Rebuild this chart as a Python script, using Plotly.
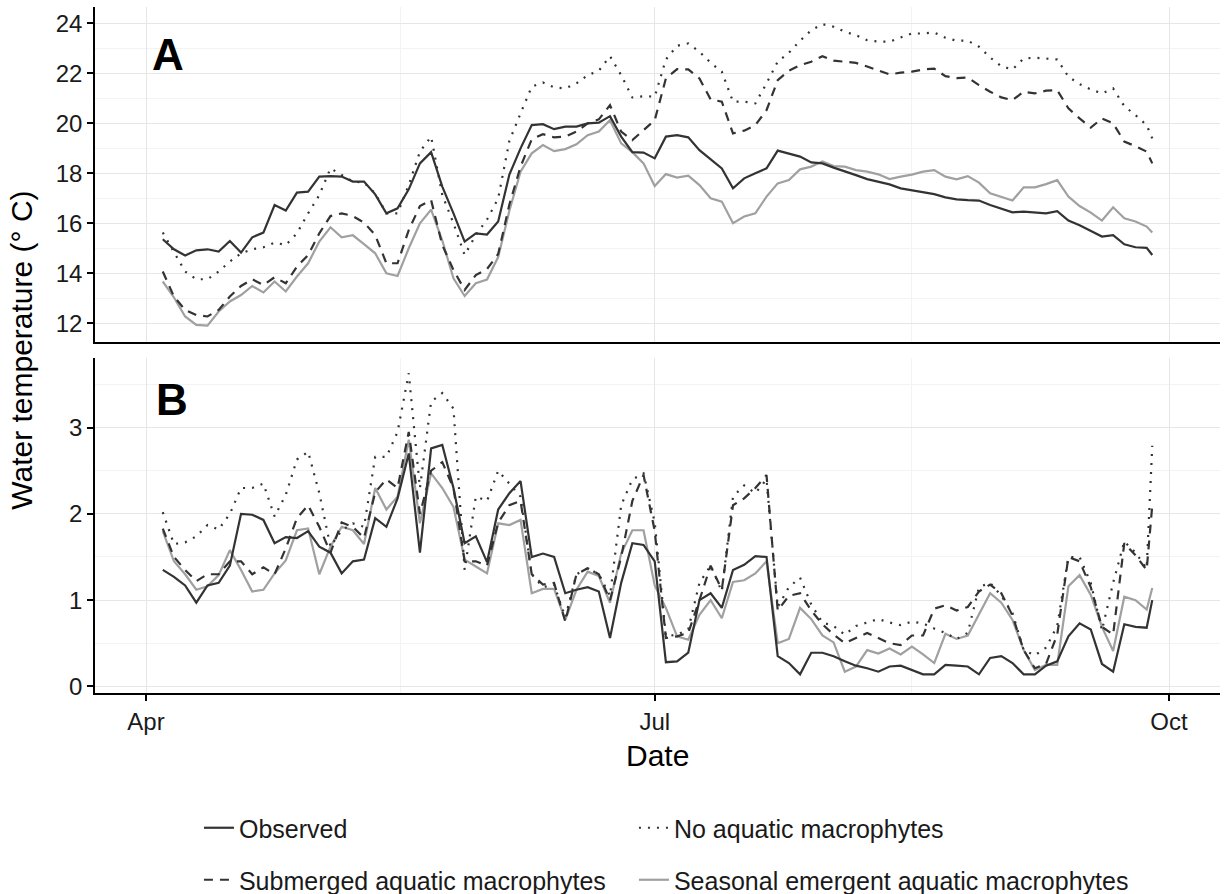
import pandas as pd
import plotly.graph_objects as go
from plotly.subplots import make_subplots

FONT = "Liberation Sans, Arial, sans-serif"

# ---- data -------------------------------------------------------------
dates = list(pd.date_range("2015-04-04", "2015-09-27", freq="2D").strftime("%Y-%m-%d")) + ["2015-09-28"]

# Panel A: mean water temperature (deg C)
mean_observed = [
    15.36, 14.96, 14.71, 14.92, 14.96, 14.87, 15.29, 14.83, 15.44, 15.63,
    16.73, 16.51, 17.23, 17.27, 17.87, 17.89, 17.87, 17.67, 17.67, 17.16,
    16.40, 16.60, 17.36, 18.40, 18.85, 17.47, 16.40, 15.27, 15.60, 15.55,
    16.07, 17.95, 19.00, 19.93, 19.97, 19.77, 19.87, 19.87, 20.00, 20.03,
    20.29, 19.47, 18.85, 18.83, 18.60, 19.47, 19.53, 19.44, 18.93, 18.56,
    18.20, 17.40, 17.80, 18.00, 18.20, 18.91, 18.80, 18.67, 18.44, 18.40,
    18.23, 18.09, 17.93, 17.77, 17.67, 17.56, 17.40, 17.33, 17.23, 17.17,
    17.04, 16.96, 16.93, 16.91, 16.73, 16.59, 16.44, 16.47, 16.43, 16.40,
    16.49, 16.11, 15.92, 15.71, 15.47, 15.53, 15.16, 15.04, 15.02,
    14.73,
]
mean_none = [
    15.63, 14.87, 14.07, 13.76, 13.76, 14.07, 14.47, 14.80, 14.96, 15.04,
    15.23, 15.13, 15.60, 16.40, 17.13, 18.20, 17.93, 17.67, 17.63, 17.20,
    16.40, 16.40, 17.53, 18.87, 19.47, 17.13, 16.00, 14.73, 15.53, 16.15,
    17.00, 19.30, 20.40, 21.47, 21.64, 21.44, 21.40, 21.60, 21.93, 22.11,
    22.69, 21.93, 21.04, 21.09, 21.07, 22.56, 23.11, 23.20, 22.87, 22.43,
    22.07, 20.87, 20.87, 20.80, 21.60, 22.47, 22.83, 23.31, 23.73, 23.97,
    23.87, 23.67, 23.53, 23.33, 23.27, 23.27, 23.44, 23.60, 23.60, 23.64,
    23.43, 23.31, 23.31, 23.07, 22.64, 22.29, 22.16, 22.60, 22.63, 22.60,
    22.56, 21.87, 21.57, 21.36, 21.20, 21.40, 20.69, 20.33, 19.93,
    19.40,
]
mean_submerged = [
    14.07, 13.07, 12.53, 12.33, 12.27, 12.53, 13.07, 13.49, 13.76, 13.53,
    13.84, 13.60, 14.27, 14.73, 15.60, 16.29, 16.40, 16.29, 16.03, 15.53,
    14.40, 14.40, 15.73, 16.69, 16.93, 15.13, 14.13, 13.33, 13.93, 14.17,
    14.77, 16.75, 18.27, 19.36, 19.57, 19.44, 19.47, 19.67, 20.00, 20.16,
    20.73, 19.67, 19.33, 19.73, 20.13, 21.80, 22.17, 22.16, 21.80, 20.96,
    20.87, 19.60, 19.71, 19.93, 20.53, 21.73, 22.11, 22.33, 22.47, 22.69,
    22.51, 22.47, 22.42, 22.28, 22.11, 21.96, 22.03, 22.07, 22.16, 22.19,
    21.89, 21.81, 21.84, 21.53, 21.27, 21.04, 20.93, 21.27, 21.20, 21.31,
    21.33, 20.60, 20.20, 19.83, 20.20, 20.00, 19.27, 19.09, 18.87,
    18.40,
]
mean_seasonal = [
    13.67, 13.03, 12.27, 11.93, 11.90, 12.47, 12.87, 13.13, 13.49, 13.23,
    13.67, 13.27, 13.87, 14.40, 15.27, 15.84, 15.44, 15.52, 15.17, 14.80,
    14.00, 13.89, 15.00, 16.00, 16.55, 15.31, 13.80, 13.09, 13.60, 13.75,
    14.65, 16.50, 18.07, 18.80, 19.13, 18.89, 18.97, 19.16, 19.53, 19.67,
    20.13, 19.20, 18.85, 18.40, 17.49, 17.97, 17.83, 17.91, 17.53, 17.00,
    16.87, 16.00, 16.27, 16.40, 17.07, 17.60, 17.73, 18.16, 18.27, 18.48,
    18.29, 18.27, 18.13, 18.07, 17.96, 17.77, 17.87, 17.95, 18.07, 18.13,
    17.87, 17.76, 17.89, 17.63, 17.20, 17.07, 16.91, 17.44, 17.44, 17.57,
    17.73, 17.07, 16.69, 16.43, 16.11, 16.64, 16.20, 16.07, 15.87,
    15.63,
]

# Panel B: daily temperature range (deg C)
range_observed = [
    1.35, 1.27, 1.17, 0.97, 1.17, 1.20, 1.40, 2.00, 1.99, 1.93,
    1.66, 1.73, 1.72, 1.80, 1.62, 1.55, 1.31, 1.45, 1.47, 1.95,
    1.85, 2.18, 2.70, 1.55, 2.76, 2.80, 2.30, 1.66, 1.74, 1.44,
    2.05, 2.24, 2.38, 1.50, 1.54, 1.50, 1.08, 1.12, 1.15, 1.10,
    0.56, 1.20, 1.66, 1.64, 1.45, 0.28, 0.29, 0.39, 1.00, 1.08,
    0.91, 1.35, 1.41, 1.51, 1.50, 0.35, 0.27, 0.14, 0.39, 0.39,
    0.35, 0.29, 0.24, 0.21, 0.17, 0.23, 0.24, 0.19, 0.14, 0.14,
    0.25, 0.24, 0.23, 0.14, 0.33, 0.35, 0.27, 0.14, 0.14, 0.24,
    0.29, 0.58, 0.73, 0.66, 0.26, 0.17, 0.72, 0.69, 0.68,
    1.00,
]
range_none = [
    2.02, 1.65, 1.67, 1.74, 1.87, 1.82, 2.00, 2.30, 2.30, 2.35,
    1.97, 2.22, 2.63, 2.72, 2.24, 1.62, 1.81, 1.89, 1.85, 2.66,
    2.66, 2.95, 3.63, 2.30, 3.30, 3.40, 3.22, 1.35, 2.20, 2.15,
    2.50, 2.35, 2.20, 1.30, 1.15, 1.18, 0.80, 1.30, 1.37, 1.30,
    1.05, 2.10, 2.40, 2.47, 1.90, 0.58, 0.60, 0.66, 1.20, 1.40,
    1.10, 2.20, 2.33, 2.24, 2.40, 0.92, 1.15, 1.26, 0.95, 0.74,
    0.70, 0.60, 0.70, 0.74, 0.78, 0.74, 0.71, 0.75, 0.73, 0.67,
    0.62, 0.55, 0.62, 1.15, 1.20, 1.05, 0.85, 0.42, 0.36, 0.45,
    0.70, 1.50, 1.50, 1.20, 0.65, 1.20, 1.68, 1.55, 1.37,
    2.79,
]
range_submerged = [
    1.83, 1.50, 1.35, 1.22, 1.30, 1.30, 1.45, 1.45, 1.30, 1.38,
    1.30, 1.60, 1.95, 2.10, 1.85, 1.55, 1.90, 1.85, 1.72, 2.25,
    2.40, 2.30, 2.95, 2.00, 2.50, 2.60, 2.30, 1.45, 1.45, 1.40,
    1.90, 2.10, 2.15, 1.30, 1.18, 1.20, 0.75, 1.30, 1.37, 1.30,
    1.00, 1.50, 2.15, 2.45, 1.80, 0.56, 0.58, 0.62, 1.00, 1.40,
    1.12, 2.10, 2.18, 2.30, 2.45, 0.88, 1.05, 1.08, 0.88, 0.72,
    0.60, 0.50, 0.56, 0.62, 0.56, 0.50, 0.48, 0.59, 0.59, 0.90,
    0.94, 0.88, 0.92, 1.10, 1.18, 1.08, 0.82, 0.42, 0.21, 0.26,
    0.60, 1.50, 1.45, 1.15, 0.69, 0.60, 1.66, 1.52, 1.35,
    2.10,
]
range_seasonal = [
    1.80, 1.45, 1.30, 1.12, 1.16, 1.29, 1.58, 1.35, 1.10, 1.12,
    1.31, 1.46, 1.81, 1.83, 1.30, 1.62, 1.85, 1.81, 1.65, 2.30,
    2.05, 2.20, 2.86, 1.89, 2.47, 2.30, 2.08, 1.47, 1.39, 1.31,
    1.89, 1.87, 1.93, 1.08, 1.13, 1.13, 0.77, 1.12, 1.33, 1.28,
    0.97, 1.54, 1.81, 1.81, 1.17, 0.91, 0.58, 0.54, 0.83, 1.00,
    0.79, 1.21, 1.23, 1.31, 1.45, 0.50, 0.55, 0.91, 0.78, 0.59,
    0.51, 0.17, 0.23, 0.42, 0.38, 0.44, 0.37, 0.46, 0.37, 0.27,
    0.61, 0.55, 0.59, 0.83, 1.08, 0.97, 0.77, 0.42, 0.19, 0.25,
    0.25, 1.16, 1.29, 1.06, 0.69, 0.41, 1.04, 1.00, 0.89,
    1.14,
]

series_names = ["Observed", "No aquatic macrophytes",
                "Submerged aquatic macrophytes", "Seasonal emergent aquatic macrophytes"]
x_tickvals = ["2015-04-01", "2015-07-01", "2015-10-01"]
x_ticktext = ["Apr", "Jul", "Oct"]
x_minor = ["2015-05-16 12:00", "2015-08-16"]
topA_ticks = [12, 14, 16, 18, 20, 22, 24]
topA_minor = [13, 15, 17, 19, 21, 23]
botB_ticks = [0, 1, 2, 3]
botB_minor = [0.5, 1.5, 2.5, 3.5]

# ---- styles -----------------------------------------------------------
DARK = "#333333"
GREY = "#a0a0a0"
styles = {
    "Observed": dict(color=DARK, width=2.2, dash="solid"),
    "No aquatic macrophytes": dict(color=DARK, width=2.2, dash="2px,7px"),
    "Submerged aquatic macrophytes": dict(color=DARK, width=2.2, dash="9px,7px"),
    "Seasonal emergent aquatic macrophytes": dict(color=GREY, width=2.2, dash="solid"),
}
legend_of = {"Observed": "legend", "No aquatic macrophytes": "legend",
             "Submerged aquatic macrophytes": "legend2",
             "Seasonal emergent aquatic macrophytes": "legend2"}
rank_of = {"Observed": 1, "No aquatic macrophytes": 2,
           "Submerged aquatic macrophytes": 3, "Seasonal emergent aquatic macrophytes": 4}
legw_of = {"Observed": 390, "No aquatic macrophytes": 390,
           "Submerged aquatic macrophytes": 390, "Seasonal emergent aquatic macrophytes": 480}
top_data = {"Observed": mean_observed, "No aquatic macrophytes": mean_none,
            "Submerged aquatic macrophytes": mean_submerged,
            "Seasonal emergent aquatic macrophytes": mean_seasonal}
bot_data = {"Observed": range_observed, "No aquatic macrophytes": range_none,
            "Submerged aquatic macrophytes": range_submerged,
            "Seasonal emergent aquatic macrophytes": range_seasonal}

fig = make_subplots(rows=2, cols=1, shared_xaxes=True)

draw_order = ["Seasonal emergent aquatic macrophytes", "No aquatic macrophytes",
              "Submerged aquatic macrophytes", "Observed"]
for name in draw_order:
    fig.add_trace(go.Scatter(x=dates, y=top_data[name], mode="lines", name=name,
                             line=styles[name], legend=legend_of[name],
                             legendrank=rank_of[name], legendwidth=legw_of[name],
                             showlegend=True, hoverinfo="skip"), row=1, col=1)
    fig.add_trace(go.Scatter(x=dates, y=bot_data[name], mode="lines", name=name,
                             line=styles[name], showlegend=False,
                             hoverinfo="skip"), row=2, col=1)

GRID = "#e6e6e6"
GRID_MINOR = "#f3f3f3"
x_common = dict(
    type="date", range=["2015-03-22 21:03", "2015-10-10 02:48"],
    tickmode="array", tickvals=x_tickvals, ticktext=x_ticktext,
    showgrid=True, gridcolor=GRID, gridwidth=1.2,
    minor=dict(tickmode="array", tickvals=x_minor, showgrid=True,
               gridcolor=GRID_MINOR, gridwidth=1, ticks=""),
    showline=True, linecolor="black", linewidth=1.6, zeroline=False,
)
fig.update_xaxes(**x_common, showticklabels=False, ticks="", row=1, col=1)
fig.update_xaxes(**x_common, showticklabels=True, ticks="outside", ticklen=6,
                 tickwidth=1.5, tickcolor="black",
                 tickfont=dict(family=FONT, size=24, color="#1a1a1a"), row=2, col=1)

y_common = dict(showgrid=True, gridcolor=GRID, gridwidth=1.2, zeroline=False,
                showline=True, linecolor="black", linewidth=1.6,
                ticks="outside", ticklen=6, tickwidth=1.5, tickcolor="black",
                tickfont=dict(family=FONT, size=24, color="#1a1a1a"))
fig.update_yaxes(**y_common, domain=[0.5121, 1.0], range=[11.26, 24.66],
                 tickmode="array", tickvals=topA_ticks,
                 minor=dict(tickmode="array", tickvals=topA_minor, showgrid=True,
                            gridcolor=GRID_MINOR, gridwidth=1, ticks=""),
                 row=1, col=1)
fig.update_yaxes(**y_common, domain=[0.0, 0.4883], range=[-0.077, 3.807],
                 tickmode="array", tickvals=botB_ticks,
                 minor=dict(tickmode="array", tickvals=botB_minor, showgrid=True,
                            gridcolor=GRID_MINOR, gridwidth=1, ticks=""),
                 row=2, col=1)

leg_common = dict(orientation="h", xanchor="left", yanchor="middle",
                  x=0.0924, entrywidthmode="pixels",
                  font=dict(family=FONT, size=25, color="#1a1a1a"),
                  bgcolor="rgba(0,0,0,0)", borderwidth=0, itemclick=False,
                  itemdoubleclick=False)
fig.update_layout(
    width=1225, height=894,
    margin=dict(l=95, r=5, t=7, b=201, autoexpand=False),
    plot_bgcolor="white", paper_bgcolor="white",
    font=dict(family=FONT, color="#1a1a1a"),
    legend=dict(**leg_common, y=-0.1968),
    legend2=dict(**leg_common, y=-0.2726),
)

fig.add_annotation(text="A", xref="x domain", yref="y domain", x=0.0653, y=0.857,
                   xanchor="center", yanchor="middle", showarrow=False,
                   font=dict(family=FONT, size=44, color="black", weight="bold"))
fig.add_annotation(text="B", xref="x2 domain", yref="y2 domain", x=0.0682, y=0.8756,
                   xanchor="center", yanchor="middle", showarrow=False,
                   font=dict(family=FONT, size=44, color="black", weight="bold"))
fig.add_annotation(text="Water temperature (° C)", xref="paper", yref="paper",
                   x=-0.066, y=0.5, xanchor="center", yanchor="middle",
                   textangle=-90, showarrow=False,
                   font=dict(family=FONT, size=30, color="black"))
fig.add_annotation(text="Date", xref="paper", yref="paper", x=0.5, y=-0.0904,
                   xanchor="center", yanchor="middle", showarrow=False,
                   font=dict(family=FONT, size=30, color="black"))

fig.write_html("out.html")
